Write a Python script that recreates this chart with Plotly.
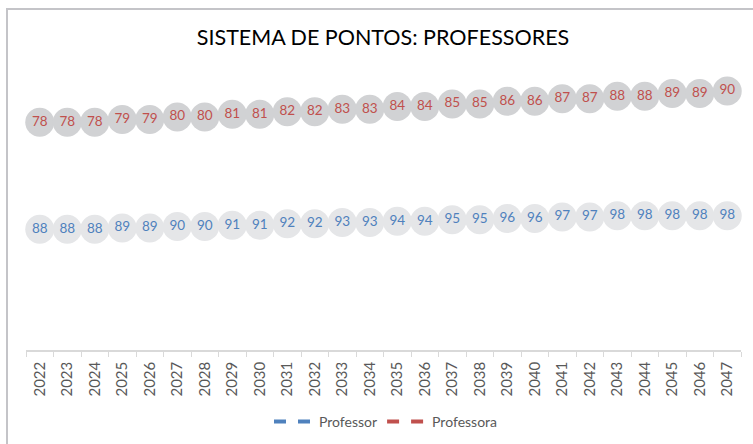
import plotly.graph_objects as go

years = [str(y) for y in range(2022, 2048)]
professor = [88, 88, 88, 89, 89, 90, 90, 91, 91, 92, 92, 93, 93,
             94, 94, 95, 95, 96, 96, 97, 97, 98, 98, 98, 98, 98]
professora = [78, 78, 78, 79, 79, 80, 80, 81, 81, 82, 82, 83, 83,
              84, 84, 85, 85, 86, 86, 87, 87, 88, 88, 89, 89, 90]

FONT = "Lato"
BLUE, RED = "#4f81bd", "#c0504d"

fig = go.Figure()
fig.add_trace(go.Scatter(
    x=years, y=professor, name="Professor", yaxis="y2",
    mode="markers+text", text=[str(v) for v in professor],
    textposition="middle center",
    textfont=dict(family=FONT, size=13.5, color=BLUE),
    marker=dict(size=29, color="#e5e6e8", line=dict(width=0)),
    hoverinfo="skip", showlegend=False, cliponaxis=False,
))
fig.add_trace(go.Scatter(
    x=years, y=professora, name="Professora", yaxis="y",
    mode="markers+text", text=[str(v) for v in professora],
    textposition="middle center",
    textfont=dict(family=FONT, size=13.5, color=RED),
    marker=dict(size=29, color="#d1d2d4", line=dict(width=0)),
    hoverinfo="skip", showlegend=False, cliponaxis=False,
))
# legend entries (dashed line samples)
for name, col in [("Professor", BLUE), ("Professora", RED)]:
    fig.add_trace(go.Scatter(
        x=[None], y=[None], name=name, mode="lines",
        line=dict(color=col, width=4, dash="dash"),
        hoverinfo="skip", showlegend=True,
    ))

L, R, T, B = 26, 12, 60, 94
W, H = 753, 444
pw, ph = W - L - R, H - T - B

def px_x(p):
    return (p - L) / pw

def px_y(p):
    return (H - B - p) / ph

fig.update_layout(
    width=W, height=H,
    margin=dict(l=L, r=R, t=T, b=B, autoexpand=False),
    paper_bgcolor="white", plot_bgcolor="white",
    font=dict(family=FONT, color="#595959"),
    title=dict(text="SISTEMA DE PONTOS: PROFESSORES",
               font=dict(family=FONT, size=21.5, color="#000000"),
               x=px_x(383), xref="paper", xanchor="center",
               y=1 - 37 / H, yanchor="middle"),
    xaxis=dict(type="category", range=[-0.5, len(years) - 0.5],
               showgrid=False, showline=True, automargin=False,
               linecolor="#d9d9d9", linewidth=1.5,
               ticks="outside", ticklen=5, tickcolor="#d9d9d9",
               tickson="boundaries", tickangle=-90,
               tickfont=dict(family=FONT, size=15, color="#595959"),
               ticklabelstandoff=4, zeroline=False, fixedrange=True),
    yaxis=dict(range=[-9.6, 101.9], visible=False, fixedrange=True,
               automargin=False),
    yaxis2=dict(range=[-0.75, 212.5], visible=False, overlaying="y",
                fixedrange=True, automargin=False),
    legend=dict(orientation="h", x=px_x(386), xanchor="center",
                y=px_y(422), yanchor="middle",
                font=dict(family=FONT, size=14, color="#595959"),
                itemwidth=40, traceorder="normal"),
    showlegend=True,
    shapes=[dict(type="rect", xref="paper", yref="paper",
                 x0=px_x(7), x1=px_x(800), y0=px_y(500), y1=px_y(9),
                 line=dict(color="#c4c4c8", width=2), layer="below")],
)

fig.write_html("out.html", config={"displayModeBar": False},
               post_script="document.body.style.margin='0';"
                           "document.body.style.overflow='hidden';")
